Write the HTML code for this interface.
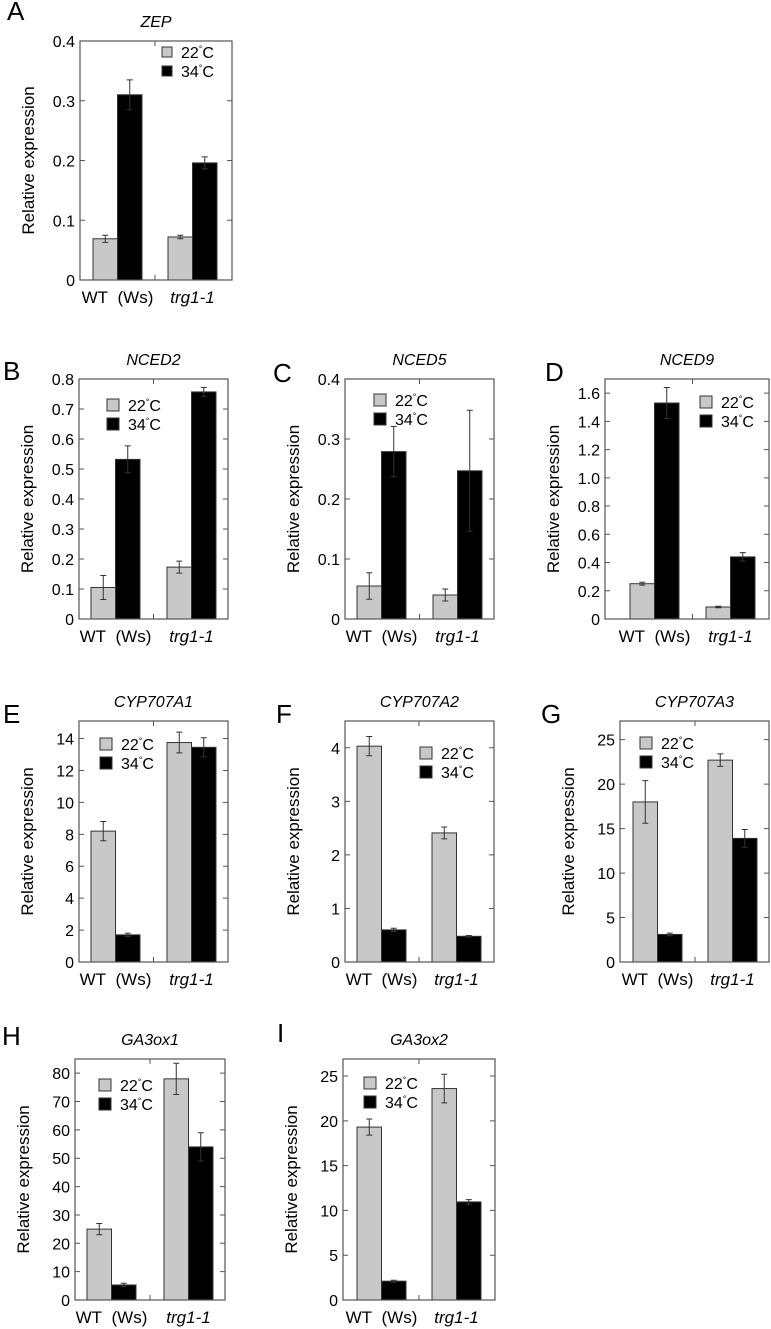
<!DOCTYPE html>
<html><head><meta charset="utf-8">
<style>
body{margin:0;background:#fff;}
svg{display:block;font-family:"Liberation Sans",sans-serif;}
</style></head>
<body>
<svg id="fig" width="771" height="1329" viewBox="0 0 771 1329"></svg>
<script>
const groups = ["WT\u00a0\u00a0(Ws)", "trg1-1"];
const seriesNames = ["22", "34"];
const titles = ["ZEP","NCED2","NCED5","NCED9","CYP707A1","CYP707A2","CYP707A3","GA3ox1","GA3ox2"];
const letters = ["A","B","C","D","E","F","G","H","I"];
const vals22 = [[0.069,0.072],[0.105,0.173],[0.055,0.040],[0.25,0.085],[8.2,13.75],[4.03,2.41],[18.0,22.7],[25,78],[19.3,23.6]];
const err22  = [[0.006,0.003],[0.04,0.02],[0.022,0.01],[0.01,0.005],[0.6,0.65],[0.18,0.11],[2.4,0.7],[2,5.5],[0.9,1.6]];
const vals34 = [[0.31,0.196],[0.532,0.757],[0.279,0.247],[1.53,0.44],[1.7,13.45],[0.6,0.48],[3.1,13.9],[5.3,54],[2.1,10.95]];
const err34  = [[0.025,0.01],[0.045,0.015],[0.042,0.101],[0.11,0.03],[0.1,0.6],[0.03,0.015],[0.15,1.0],[0.6,5],[0.1,0.25]];
const yMax = [0.4,0.8,0.4,1.7,15.1,4.5,27.1,85,26.9];
const yTicks = [
 ["0","0.1","0.2","0.3","0.4"],
 ["0","0.1","0.2","0.3","0.4","0.5","0.6","0.7","0.8"],
 ["0","0.1","0.2","0.3","0.4"],
 ["0","0.2","0.4","0.6","0.8","1.0","1.2","1.4","1.6"],
 ["0","2","4","6","8","10","12","14"],
 ["0","1","2","3","4"],
 ["0","5","10","15","20","25"],
 ["0","10","20","30","40","50","60","70","80"],
 ["0","5","10","15","20","25"]];
const L = [
 {x:80,y:41,w:152,h:239,g:[13,88],bw:24.5,lx:82,ly:6,ls:10,lt:[7,20]},
 {x:79,y:379,w:149,h:240,g:[12,88],bw:24.5,lx:28,ly:20,ls:12,lt:[3,380]},
 {x:345,y:379,w:149,h:240,g:[12,88],bw:24.5,lx:29,ly:15,ls:12,lt:[273,382]},
 {x:605,y:379,w:164,h:240,g:[25,101],bw:24.5,lx:95,ly:17,ls:12,lt:[545,381]},
 {x:79,y:721,w:149,h:241,g:[12,88],bw:24.5,lx:21,ly:17,ls:12,lt:[3,723]},
 {x:345,y:721,w:149,h:241,g:[12,87],bw:24.5,lx:75,ly:26,ls:12,lt:[276,723]},
 {x:620,y:721,w:149,h:241,g:[13,88],bw:24.5,lx:20,ly:16,ls:12,lt:[541,723]},
 {x:75,y:1059,w:150,h:241,g:[12,89],bw:24.5,lx:24,ly:20,ls:12,lt:[2,1045]},
 {x:343,y:1059,w:152,h:241,g:[14,89],bw:24.5,lx:21,ly:18,ls:12,lt:[277,1042]}];
const NS="http://www.w3.org/2000/svg";
const svg=document.getElementById('fig');
function mk(tag,attrs,parent,txt){const e=document.createElementNS(NS,tag);for(const k in attrs)e.setAttribute(k,attrs[k]);if(txt!==undefined)e.textContent=txt;(parent||svg).appendChild(e);return e;}
for(let p=0;p<9;p++){
 const c=L[p];
 const g=mk('g',{});
 
 
 const ys=v=>c.y+c.h-v/yMax[p]*c.h;
 const t1=mk('text',{x:c.lt[0],y:c.lt[1],'font-size':26},g,letters[p]);
 
 
 const t2=mk('text',{x:c.x+c.w/2,y:c.y-14,'font-size':16,'font-style':'italic','text-anchor':'middle'},g,titles[p]);
 
 
 for(let gi=0;gi<2;gi++){
  const x0=c.x+c.g[gi];
  const sets=[[vals22,err22,'#c8c8c8'],[vals34,err34,'#000']];
  for(let s=0;s<2;s++){
   const v=sets[s][0][p][gi],e=sets[s][1][p][gi];
   const bx=x0+s*c.bw;
   const r=mk('rect',{x:bx,y:ys(v),width:c.bw,height:c.y+c.h-ys(v),fill:sets[s][2],stroke:'#333','stroke-width':1},g);
   
   
   const cx=bx+c.bw/2;
   const eb=mk('path',{d:`M${cx},${ys(v+e)}V${ys(v-e)}M${cx-3},${ys(v+e)}h6M${cx-3},${ys(v-e)}h6`,stroke:'#333','stroke-width':1,fill:'none'},g);
   
   
  }
  const xl=mk('text',{x:x0+c.bw,y:c.y+c.h+23,'font-size':17,'text-anchor':'middle','font-style':gi?'italic':'normal'},g,groups[gi]);
  
  
 }
 const fr=mk('rect',{x:c.x,y:c.y,width:c.w,height:c.h,fill:'none',stroke:'#555','stroke-width':1.2},g);
 
 
 const mid=c.x+(c.g[0]+2*c.bw+c.g[1])/2;
 mk('path',{d:`M${mid},${c.y+c.h}v-5M${mid},${c.y}v5`,stroke:'#555'},g);
 yTicks[p].forEach(t=>{
  const y=ys(parseFloat(t));
  mk('path',{d:`M${c.x},${y}h5M${c.x+c.w},${y}h-5`,stroke:'#555'},g);
  const tl=mk('text',{x:c.x-5,y:y+6,'font-size':16,'text-anchor':'end'},g,t);
  
  
 });
 const yt=mk('text',{x:0,y:0,'font-size':17,'text-anchor':'middle',transform:`translate(${c.x-46},${c.y+c.h/2}) rotate(-90)`},g,'Relative expression');
 
 
 for(let s=0;s<2;s++){
  const ly=c.y+c.ly+s*19;
  const lr=mk('rect',{x:c.x+c.lx,y:ly,width:c.ls,height:c.ls,fill:s?'#000':'#c8c8c8',stroke:'#333'},g);
  
  
  const lt=mk('text',{x:c.x+c.lx+c.ls+9,y:ly+c.ls/2+6,'font-size':16},g);
  
  
  mk('tspan',{},lt,seriesNames[s]);
  mk('tspan',{'font-size':9,dy:-6},lt,'°');
  mk('tspan',{dy:6},lt,'C');
 }
}
</script>
</body></html>
